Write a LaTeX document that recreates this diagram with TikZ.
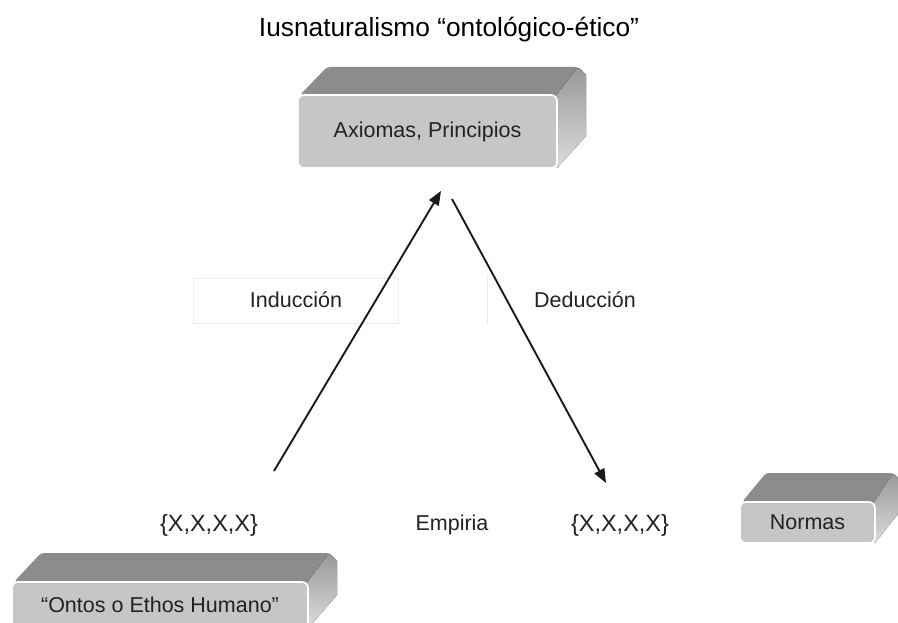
\documentclass[tikz,border=0pt]{standalone}
\usepackage{fontspec}
\setmainfont{Liberation Sans}
\usetikzlibrary{arrows.meta}
\definecolor{topgray}{HTML}{8C8C8C}
\definecolor{frontgray}{HTML}{C6C6C6}
\definecolor{sidedark}{HTML}{989898}
\definecolor{sidelight}{HTML}{DCDCDC}
\definecolor{txtgray}{HTML}{222222}
\tikzset{
  lbl/.style={font=\fontsize{21.5}{25}\selectfont, text=txtgray, inner sep=0pt},
  setlbl/.style={font=\fontsize{23.5}{27}\selectfont, text=txtgray, inner sep=0pt},
  ttl/.style={font=\fontsize{26.3}{30}\selectfont, text=black, inner sep=0pt},
  conn/.style={line width=1.9pt, black!90, -{Triangle[length=14pt,width=11pt]}},
  faint/.style={draw=black!7, line width=0.8pt},
  topface/.style={fill=topgray},
  sideface/.style={top color=sidedark, bottom color=sidelight},
  frontface/.style={fill=frontgray, draw=white, line width=1.6pt, rounded corners=6pt}
}
% slab: name, x1, y1, x2, y2, dx, dy, text
\newcommand\slabbox[8]{%
  \fill[topface, rounded corners=3pt] (#2+2,#3) -- (#2+#6,#3-#7) -- (#4+#6-8,#3-#7) -- (#4+#6,#3-#7+8) -- (#4,#3+6) -- cycle;
  \fill[sideface, rounded corners=3pt] (#4-2,#3+2) -- (#4+#6-8,#3-#7) [sharp corners] -- (#4+#6,#3-#7+8) -- (#4+#6,#5-#7-4) -- (#4,#5) -- cycle;
  \draw[frontface] (#2,#3) rectangle (#4,#5);
  \node[lbl] (#1) at ({(#2+#4)/2},{(#3+#5)/2}) {#8};
}
\begin{document}
\begin{tikzpicture}[x=1pt,y=-1pt]
\useasboundingbox (0,0) rectangle (898,623);
\clip (0,0) rectangle (898,623);
\node[ttl] (title) at (449,30) {Iusnaturalismo “ontológico-ético”};
% faint frames
\draw[faint] (193,278) rectangle (398,323);
\draw[faint] (487,274) -- (487,325);
% boxes
\slabbox{axi}{298}{95}{557}{168}{29}{28}{Axiomas, Principios}
\slabbox{nor}{740}{502}{875}{543}{26}{29}{Normas}
\slabbox{ont}{12}{582}{308}{628}{29}{29}{“Ontos o Ethos Humano”}
% labels
\node[lbl] (ind) at (296,300) {Inducción};
\node[lbl] (ded) at (585,300) {Deducción};
\node[setlbl] (setL) at (209,525) {\{X,X,X,X\}};
\node[lbl] (emp) at (452,525) {Empiria};
\node[setlbl] (setR) at (620,525) {\{X,X,X,X\}};
% connectors
\coordinate (indS) at (274,471);
\coordinate (indE) at (441,191);
\coordinate (dedS) at (452,199);
\coordinate (dedE) at (606,483);
\draw[conn] (indS) -- (indE);
\draw[conn] (dedS) -- (dedE);
\end{tikzpicture}
\end{document}
